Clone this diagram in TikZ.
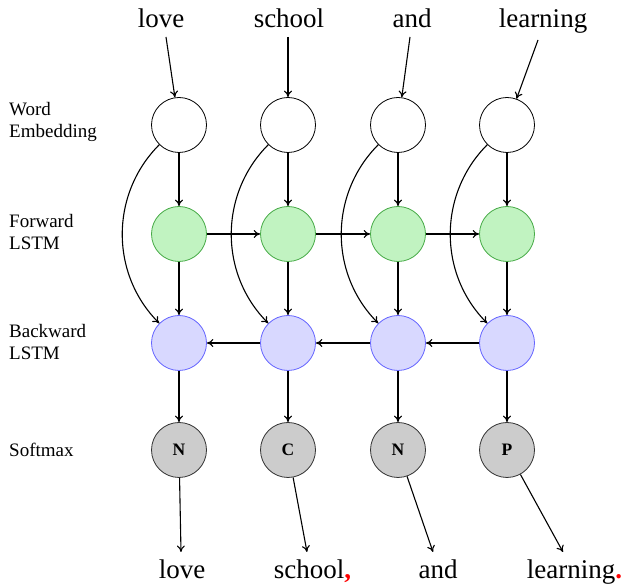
\documentclass[tikz,border=0pt]{standalone}
\usepackage{fontspec}
\setmainfont{Liberation Serif}
\usetikzlibrary{arrows.meta}
\definecolor{fwdfill}{RGB}{193,243,193}
\definecolor{fwddraw}{RGB}{70,170,70}
\definecolor{bwdfill}{RGB}{216,216,255}
\definecolor{bwddraw}{RGB}{100,100,255}
\definecolor{smfill}{RGB}{204,204,204}
\definecolor{smdraw}{RGB}{50,50,50}
\begin{document}
\begin{tikzpicture}[x=1pt,y=1pt,
  unit/.style={circle, minimum size=55pt, inner sep=0pt, line width=0.8pt},
  emb/.style={unit, draw=black, fill=white},
  fwd/.style={unit, draw=fwddraw, fill=fwdfill},
  bwd/.style={unit, draw=bwddraw, fill=bwdfill},
  sm/.style={unit, draw=smdraw, fill=smfill, font=\fontsize{17.5}{19}\selectfont\bfseries},
  word/.style={font=\fontsize{27}{30}\selectfont, anchor=base, inner sep=0pt},
  lab/.style={font=\fontsize{19}{22}\selectfont, align=left, anchor=west, inner sep=0pt},
  arr/.style={-{To[length=6.5pt,width=8pt]}, line width=1.1pt}]
\useasboundingbox (0,0) rectangle (624,585);

% row labels
\node[lab] (lw) at (9,463) {Word\\Embedding};
\node[lab] (lf) at (9,353) {Forward\\LSTM};
\node[lab] (lb) at (9,243) {Backward\\LSTM};
\node[lab] (ls) at (9,135) {Softmax};

% nodes
\foreach \i/\x in {1/179,2/288,3/398,4/507}{
  \node[emb] (w\i) at (\x,460) {};
  \node[fwd] (f\i) at (\x,351) {};
  \node[bwd] (b\i) at (\x,242) {};
}
\node[sm] (g1) at (179,135) {N};
\node[sm] (g2) at (288,135) {C};
\node[sm] (g3) at (398,135) {N};
\node[sm] (g4) at (507,135) {P};

% top words
\node[word] (t1) at (161,557) {love};
\node[word] (t2) at (289,557) {school};
\node[word] (t3) at (412,557) {and};
\node[word] (t4) at (543,557) {learning};
\coordinate (s1) at (166,548);
\coordinate (s2) at (288,548);
\coordinate (s3) at (410,548);
\coordinate (s4) at (538,545);

% bottom words
\node[word] (o1) at (182,6) {love};
\node[word] (o2) at (312.5,6) {school{\color{red}\bfseries,}};
\node[word] (o3) at (438,6) {and};
\node[word] (o4) at (574.5,6) {learning{\color{red}\bfseries.}};
\coordinate (e1) at (181,33);
\coordinate (e2) at (307,33);
\coordinate (e3) at (433,33);
\coordinate (e4) at (563,33);

\foreach \i in {1,2,3,4}{
  \draw[arr] (s\i) -- (w\i);
  \draw[arr] (w\i) -- (f\i);
  \draw[arr] (f\i) -- (b\i);
  \draw[arr] (b\i) -- (g\i);
  \draw[arr] (w\i) to[bend right=45] (b\i);
  \draw[arr] (g\i) -- (e\i);
}
\foreach \i/\j in {1/2,2/3,3/4}{
  \draw[arr] (f\i) -- (f\j);
  \draw[arr] (b\j) -- (b\i);
}
\end{tikzpicture}
\end{document}
